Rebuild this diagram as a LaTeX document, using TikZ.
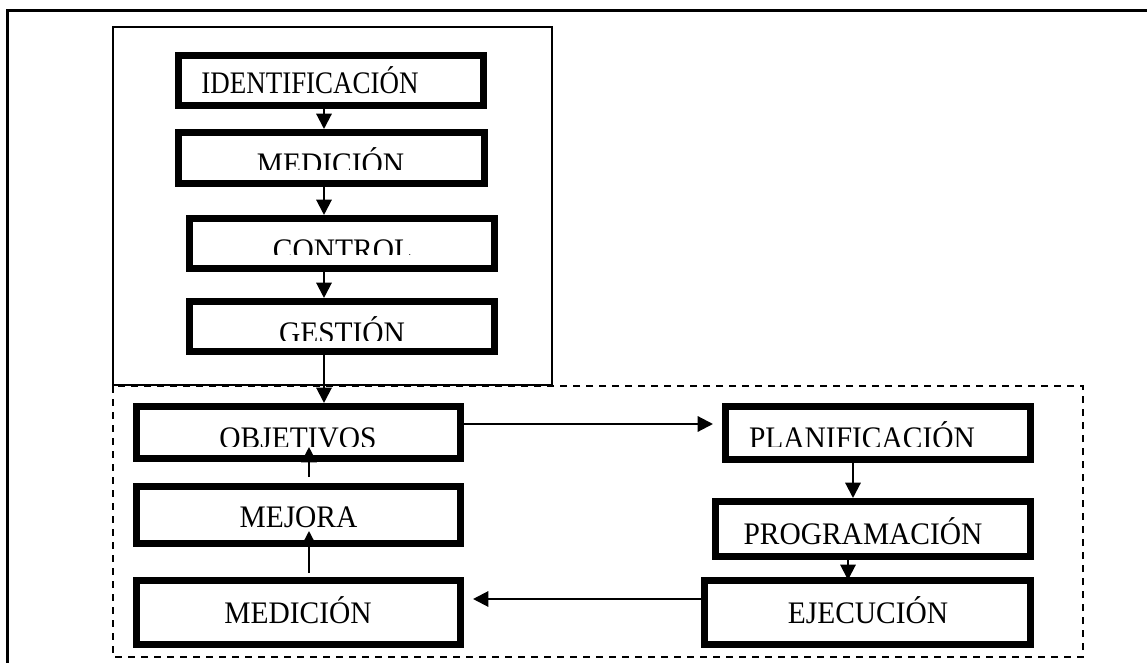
\documentclass[tikz,border=0pt]{standalone}
\usepackage{fontspec}
\setmainfont{Liberation Serif}
\newfontfamily\lblfont[FakeStretch=0.94]{Liberation Serif}
\usepackage{graphicx}
\usetikzlibrary{arrows.meta}

\begin{document}
\begin{tikzpicture}[x=0.75pt,y=-0.75pt,
  box/.style={draw, rectangle, line width=5.2pt, inner sep=0pt},
  lbl/.style={inner sep=0pt, anchor=base, font=\lblfont\fontsize{23.5}{28}\selectfont},
  arr/.style={line width=1.6pt, -{Triangle[length=11.5pt,width=11.5pt]}},
  frameline/.style={line width=2pt},
  group/.style={line width=1.7pt},
  zone/.style={line width=1.5pt, dash pattern=on 5.25pt off 4.5pt},
]
\useasboundingbox (0,0) rectangle (1147,663);

% page frame (top and left rules)
\draw[frameline] (1147,10.7) -- (7.3,10.7) -- (7.3,663);

% dashed zone of the improvement cycle, then the solid group above it
\draw[zone] (113,386) rectangle (1083,657);
\draw[group] (113,27) rectangle (552,385);

% boxes of the upper chain
\node[box, minimum width=228.8pt, minimum height=37.6pt] (ident)   at (331,80.5)  {};
\node[box, minimum width=229.6pt, minimum height=38.3pt] (med1)    at (331.5,158) {};
\node[box, minimum width=228.8pt, minimum height=37.6pt] (control) at (342,243.5) {};
\node[box, minimum width=228.8pt, minimum height=37.6pt] (gestion) at (342,326.5) {};

% boxes of the cycle
\node[box, minimum width=243.1pt, minimum height=39.1pt] (objetivos) at (298.5,432.5) {};
\node[box, minimum width=243.1pt, minimum height=42.8pt] (mejora)    at (298.5,515)   {};
\node[box, minimum width=243.1pt, minimum height=48.1pt] (med2)      at (298.5,612.5) {};
\node[box, minimum width=228.8pt, minimum height=39.8pt] (planif)    at (878,433)     {};
\node[box, minimum width=236.3pt, minimum height=41.3pt] (prog)      at (873,529)     {};
\node[box, minimum width=244.6pt, minimum height=48.1pt] (ejec)      at (867.5,612.5) {};

% labels (some are cut off at the bottom)
\node[lbl] (tident) at (310,94) {\scalebox{0.915}[1]{IDENTIFICACIÓN}};
\begin{scope}
  \clip (175,120) rectangle (488,170);
  \node[lbl] (tmed1) at (330.5,175) {MEDICIÓN};
\end{scope}
\begin{scope}
  \clip (186,200) rectangle (498,255);
  \node[lbl] (tcontrol) at (342.5,260.5) {CONTROL};
\end{scope}
\begin{scope}
  \clip (186,290) rectangle (498,340);
  \node[lbl] (tgestion) at (342,343.5) {GESTIÓN};
\end{scope}
\begin{scope}
  \clip (133,395) rectangle (464,446);
  \node[lbl] (tobjetivos) at (298,448) {OBJETIVOS};
\end{scope}
\begin{scope}
  \clip (722,395) rectangle (1034,446);
  \node[lbl] (tplanif) at (862,448) {PLANIFICACIÓN};
\end{scope}
\node[lbl] (tmejora) at (298.5,527) {MEJORA};
\node[lbl] (tprog)   at (863,544)   {PROGRAMACIÓN};
\node[lbl] (tmed2)   at (298,623)   {MEDICIÓN};
\node[lbl] (tejec)   at (868,623)   {EJECUCIÓN};

% connectors
\coordinate (colA) at (324,0);
\coordinate (colB) at (853,0);
\coordinate (colC) at (848,0);
\coordinate (colD) at (309,0);
\coordinate (rowA) at (0,424);
\coordinate (rowB) at (0,599);

\draw[arr] (ident.south -| colA) -- (med1.north -| colA);
\draw[arr] (med1.south -| colA) -- (control.north -| colA);
\draw[arr] (control.south -| colA) -- (gestion.north -| colA);
\draw[arr] (gestion.south -| colA) -- (objetivos.north -| colA);
\draw[arr, shorten >=6.75pt] (objetivos.east |- rowA) -- (planif.west |- rowA);
\draw[arr] (planif.south -| colB) -- (prog.north -| colB);
\draw[arr, shorten >=-2.25pt] (prog.south -| colC) -- (ejec.north -| colC);
\draw[arr, shorten <=-2.25pt, shorten >=6.75pt] (ejec.west |- rowB) -- (med2.east |- rowB);
\draw[arr, shorten <=3pt, shorten >=-12pt] (med2.north -| colD) -- (mejora.south -| colD);
\draw[arr, shorten <=4.5pt, shorten >=-11.25pt] (mejora.north -| colD) -- (objetivos.south -| colD);
\end{tikzpicture}
\end{document}
